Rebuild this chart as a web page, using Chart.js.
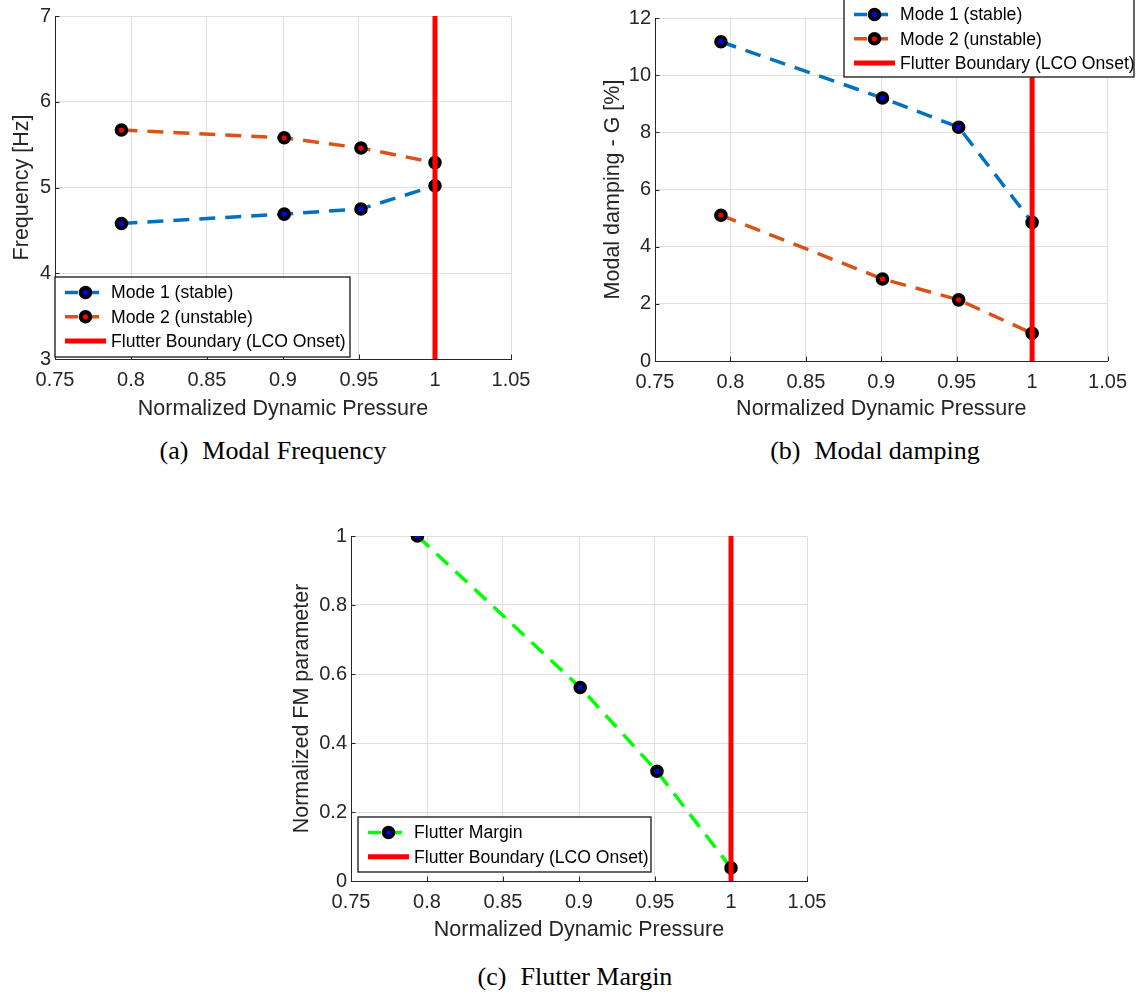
<!DOCTYPE html>
<html>
<head>
<meta charset="utf-8">
<script src="https://cdn.jsdelivr.net/npm/chart.js@4.4.1/dist/chart.umd.min.js"></script>
<style>
  html, body { margin: 0; padding: 0; background: #fff; }
  #pagina { position: relative; width: 1136px; height: 996px; overflow: hidden; background: #fff; }
  .painel { position: absolute; }
  .legenda-fig { position: absolute; font-family: "Liberation Serif", "Times New Roman", serif; font-size: 26px; line-height: 26px; text-align: center; white-space: pre; color: #000; }
  .espaco { display: inline-block; width: 14px; }
</style>
</head>
<body>
<div id="pagina">
  <div class="painel" style="left:0px;top:0px"><canvas id="graficoFreq" width="560" height="430"></canvas></div>
  <div class="painel" style="left:590px;top:0px"><canvas id="graficoAmort" width="546" height="430"></canvas></div>
  <div class="painel" style="left:280px;top:510px"><canvas id="graficoMargem" width="560" height="440"></canvas></div>
  <div class="legenda-fig" style="left:123px;top:438px;width:300px">(a)<span class="espaco"></span>Modal Frequency</div>
  <div class="legenda-fig" style="left:725px;top:438px;width:300px">(b)<span class="espaco"></span>Modal damping</div>
  <div class="legenda-fig" style="left:425px;top:964px;width:300px">(c)<span class="espaco"></span>Flutter Margin</div>
</div>
<script>
// dados
const pressao = [0.7937, 0.9008, 0.9513, 1.0];
const freqModo1 = [4.58, 4.69, 4.75, 5.02];
const freqModo2 = [5.67, 5.58, 5.46, 5.29];
const amortModo1 = [11.17, 9.20, 8.18, 4.85];
const amortModo2 = [5.10, 2.87, 2.14, 0.97];
const margemFlutter = [1.0, 0.561, 0.318, 0.038];
const fronteiraFlutter = 1.0;

const ticksX = [0.75, 0.8, 0.85, 0.9, 0.95, 1, 1.05];
const ticksFreq = [3, 4, 5, 6, 7];
const ticksAmort = [0, 2, 4, 6, 8, 10, 12];
const ticksMargem = [0, 0.2, 0.4, 0.6, 0.8, 1];

const corTexto = "#262626";
const corGrade = "#dfdfdf";
const fonte = "'Liberation Sans', Arial, sans-serif";

function pontos(ys) {
  return pressao.map((x, i) => ({ x: x, y: ys[i] }));
}

function serieModo(label, ys, cor, corPonto, ordem) {
  return {
    label: label,
    data: pontos(ys),
    borderColor: cor,
    borderWidth: 3.5,
    borderDash: [16, 10],
    pointRadius: 4.7,
    pointBorderWidth: 4.2,
    pointBorderColor: "#000",
    pointBackgroundColor: corPonto,
    order: ordem
  };
}

function serieFronteira(ticksY) {
  return {
    label: "Flutter Boundary (LCO Onset)",
    data: [{ x: fronteiraFlutter, y: ticksY[0] }, { x: fronteiraFlutter, y: ticksY[ticksY.length - 1] }],
    borderColor: "#ff0000",
    borderWidth: 5,
    pointRadius: 0,
    order: 0
  };
}

// legenda no estilo do matlab, desenhada dentro do grafico
const legendaMatlab = {
  id: "legendaMatlab",
  afterDatasetsDraw(chart, args, opts) {
    const ctx = chart.ctx;
    const { left, top, width, height } = opts.caixa;
    ctx.save();
    ctx.fillStyle = "#fff";
    ctx.fillRect(left, top, width, height);
    ctx.strokeStyle = corTexto;
    ctx.lineWidth = 1.4;
    ctx.strokeRect(left, top, width, height);
    chart.data.datasets.forEach((ds, i) => {
      const y = top + 15.5 + i * 24.3;
      ctx.beginPath();
      ctx.setLineDash(ds.borderDash ? [13, 8] : []);
      ctx.lineWidth = ds.borderWidth;
      ctx.strokeStyle = ds.borderColor;
      ctx.moveTo(left + 10, y);
      ctx.lineTo(left + 51, y);
      ctx.stroke();
      ctx.setLineDash([]);
      if (ds.pointRadius > 0) {
        ctx.beginPath();
        ctx.arc(left + 30.5, y, ds.pointRadius, 0, Math.PI * 2);
        ctx.fillStyle = ds.pointBackgroundColor;
        ctx.fill();
        ctx.lineWidth = ds.pointBorderWidth;
        ctx.strokeStyle = ds.pointBorderColor;
        ctx.stroke();
      }
      ctx.fillStyle = "#000";
      ctx.font = "17.6px " + fonte;
      ctx.textBaseline = "middle";
      ctx.textAlign = "left";
      ctx.fillText(ds.label, left + 56, y + 1);
    });
    ctx.restore();
  }
};

// marcas de tick para dentro, como no matlab
const ticksInternos = {
  id: "ticksInternos",
  beforeDatasetsDraw(chart) {
    const { ctx, chartArea: a, scales: { x, y } } = chart;
    ctx.save();
    ctx.strokeStyle = corTexto;
    ctx.lineWidth = 1;
    x.ticks.forEach(t => {
      const px = Math.round(x.getPixelForValue(t.value)) + 0.5;
      ctx.beginPath();
      ctx.moveTo(px, a.bottom);
      ctx.lineTo(px, a.bottom - 4.5);
      ctx.stroke();
    });
    y.ticks.forEach(t => {
      const py = Math.round(y.getPixelForValue(t.value)) + 0.5;
      ctx.beginPath();
      ctx.moveTo(a.left, py);
      ctx.lineTo(a.left + 4.5, py);
      ctx.stroke();
    });
    ctx.restore();
  }
};

function formatar(v) {
  return String(Number(v.toFixed(2)));
}

function criarGrafico(id, datasets, ticksY, tituloY, area, tituloYx, tituloXy, caixa) {
  const canvas = document.getElementById(id);
  const w = canvas.width;
  const h = canvas.height;
  const alturaTitulo = 21.5 * 1.2;
  return new Chart(canvas.getContext("2d"), {
    type: "line",
    data: { datasets: datasets },
    options: {
      responsive: false,
      animation: false,
      events: [],
      layout: { padding: { left: 0, top: area.t, right: w - area.r, bottom: 0 } },
      plugins: {
        legend: { display: false },
        tooltip: { enabled: false },
        legendaMatlab: { caixa: caixa }
      },
      scales: {
        x: {
          type: "linear",
          min: ticksX[0],
          max: ticksX[ticksX.length - 1],
          afterBuildTicks: s => { s.ticks = ticksX.map(v => ({ value: v })); },
          afterFit: s => { s.height = h - area.b; },
          grid: { color: corGrade, drawTicks: false },
          border: { display: true, color: corTexto, width: 1 },
          ticks: {
            color: corTexto,
            font: { family: fonte, size: 20 },
            padding: 9,
            maxRotation: 0,
            callback: v => formatar(v)
          },
          title: {
            display: true,
            text: "Normalized Dynamic Pressure",
            color: corTexto,
            font: { family: fonte, size: 21.5 },
            padding: { top: 0, bottom: h - tituloXy - alturaTitulo / 2 }
          }
        },
        y: {
          type: "linear",
          min: ticksY[0],
          max: ticksY[ticksY.length - 1],
          afterBuildTicks: s => { s.ticks = ticksY.map(v => ({ value: v })); },
          afterFit: s => { s.width = area.l; },
          grid: { color: corGrade, drawTicks: false },
          border: { display: true, color: corTexto, width: 1 },
          ticks: {
            color: corTexto,
            font: { family: fonte, size: 20 },
            padding: 4,
            callback: v => formatar(v)
          },
          title: {
            display: true,
            text: tituloY,
            color: corTexto,
            font: { family: fonte, size: 21.5 },
            padding: { top: tituloYx - alturaTitulo / 2, bottom: 0 }
          }
        }
      }
    },
    plugins: [ticksInternos, legendaMatlab]
  });
}

document.addEventListener("DOMContentLoaded", () => {
  criarGrafico("graficoFreq", [
    serieModo("Mode 1 (stable)", freqModo1, "#0072bd", "#0000ff", 2),
    serieModo("Mode 2 (unstable)", freqModo2, "#d95319", "#ff0000", 1),
    serieFronteira(ticksFreq)
  ], ticksFreq, "Frequency [Hz]",
  { l: 55, t: 16, r: 511, b: 359 }, 22, 409,
  { left: 55, top: 277, width: 295, height: 80 });

  criarGrafico("graficoAmort", [
    serieModo("Mode 1 (stable)", amortModo1, "#0072bd", "#0000ff", 2),
    serieModo("Mode 2 (unstable)", amortModo2, "#d95319", "#ff0000", 1),
    serieFronteira(ticksAmort)
  ], ticksAmort, "Modal damping - G [%]",
  { l: 65, t: 18, r: 518, b: 361 }, 23, 409,
  { left: 254, top: -1, width: 290, height: 78 });

  criarGrafico("graficoMargem", [
    serieModo("Flutter Margin", margemFlutter, "#00ff00", "#0000ff", 1),
    serieFronteira(ticksMargem)
  ], ticksMargem, "Normalized FM parameter",
  { l: 71, t: 26, r: 527, b: 371 }, 22, 420,
  { left: 78, top: 307, width: 293, height: 55 });
});
</script>
</body>
</html>
